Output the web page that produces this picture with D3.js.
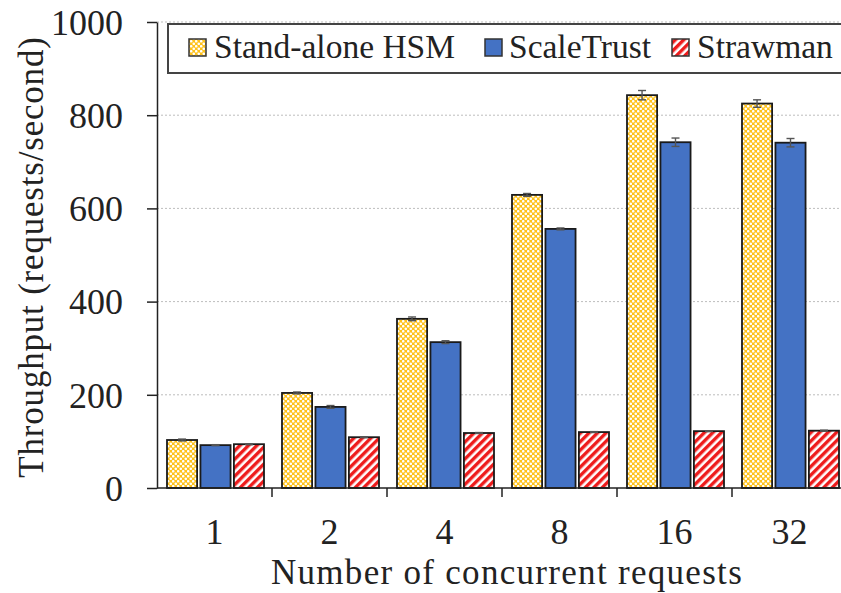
<!DOCTYPE html>
<html><head><meta charset="utf-8">
<script src="https://cdn.jsdelivr.net/npm/d3@7"></script>
<style>body{margin:0;background:#fff;} svg{display:block;} svg text{font-family:"Liberation Serif","Times New Roman",Times,serif !important;}</style>
</head><body>
<script>
const categories = ["1","2","4","8","16","32"];
const seriesNames = ["Stand-alone HSM","ScaleTrust","Strawman"];
const hsm = [103, 204, 363, 629, 843, 825];
const scaleTrust = [92, 174, 313, 556, 742, 741];
const strawman = [94, 109, 118, 120, 122, 123];
const hsmErr = [2, 2, 4, 3, 10, 8];
const scaleTrustErr = [1, 3, 3, 2, 9, 9];
const strawmanErr = [1, 1, 1, 1, 1, 1];
const yTicks = [0, 200, 400, 600, 800, 1000];

(function(){
const W = 841, H = 593;
const svg = d3.select("body").append("svg").attr("width", W).attr("height", H);
const defs = svg.append("defs");

const p1 = defs.append("pattern").attr("id","patHSM").attr("patternUnits","userSpaceOnUse")
  .attr("width",5).attr("height",5);
p1.append("rect").attr("width",5).attr("height",5).attr("fill","#FFC21A");
p1.append("circle").attr("cx",1.25).attr("cy",1.25).attr("r",1.3).attr("fill","#fff");
p1.append("circle").attr("cx",3.75).attr("cy",3.75).attr("r",1.3).attr("fill","#fff");

const p3 = defs.append("pattern").attr("id","patStraw").attr("patternUnits","userSpaceOnUse")
  .attr("width",6).attr("height",6).attr("patternTransform","rotate(45)");
p3.append("rect").attr("width",6).attr("height",6).attr("fill","#fff");
p3.append("rect").attr("width",3.4).attr("height",6).attr("fill","#EE1C1C");

const fills = ["url(#patHSM)", "#4472C4", "url(#patStraw)"];
const data = categories.map((c,i)=>({cat:c, vals:[
  {s:0, v:hsm[i], e:hsmErr[i]},
  {s:1, v:scaleTrust[i], e:scaleTrustErr[i]},
  {s:2, v:strawman[i], e:strawmanErr[i]}]}));

const mLeft = 157, mRight = 847, mTop = 22, mBottom = 488;
const x0 = d3.scaleBand().domain(categories).range([mLeft, mRight]).padding(0);
const x1 = d3.scaleBand().domain([0,1,2]).range([10, x0.bandwidth()-8]).paddingInner(0.1);
const y = d3.scaleLinear().domain([0,1000]).range([mBottom, mTop]);

const font = "Liberation Serif";

svg.append("g").selectAll("line").data(yTicks.filter(d=>d>0)).join("line")
  .attr("x1", mLeft).attr("x2", mRight).attr("y1", d=>y(d)).attr("y2", d=>y(d))
  .attr("stroke","#bdbdbd").attr("stroke-width",1).attr("stroke-dasharray","2,2");

const g = svg.append("g").selectAll("g").data(data).join("g")
  .attr("transform", d=>`translate(${x0(d.cat)},0)`);
g.selectAll("rect").data(d=>d.vals).join("rect")
  .attr("x", d=>x1(d.s)).attr("width", x1.bandwidth())
  .attr("y", d=>y(d.v)).attr("height", d=>mBottom - y(d.v))
  .attr("fill", d=>fills[d.s]).attr("stroke","#1a1a1a").attr("stroke-width",1.8);

const eb = g.selectAll("g.err").data(d=>d.vals).join("g").attr("class","err")
  .attr("stroke","#555").attr("stroke-width",1.4);
const cx = d=>x1(d.s)+x1.bandwidth()/2;
eb.append("line").attr("x1", cx).attr("x2", cx)
  .attr("y1", d=>y(d.v+d.e)).attr("y2", d=>y(d.v-d.e));
eb.append("line").attr("x1", d=>cx(d)-4).attr("x2", d=>cx(d)+4)
  .attr("y1", d=>y(d.v+d.e)).attr("y2", d=>y(d.v+d.e));
eb.append("line").attr("x1", d=>cx(d)-4).attr("x2", d=>cx(d)+4)
  .attr("y1", d=>y(d.v-d.e)).attr("y2", d=>y(d.v-d.e));

const yAxis = svg.append("g").attr("transform",`translate(${mLeft},0)`)
  .call(d3.axisLeft(y).tickValues(yTicks).tickFormat(d3.format("d")).tickSize(10).tickPadding(24).tickSizeOuter(0));
yAxis.attr("font-family", font);
yAxis.select(".domain").attr("stroke","#222").attr("stroke-width",1.5);
yAxis.selectAll(".tick line").attr("stroke","#222").attr("stroke-width",1.5);
yAxis.selectAll(".tick text").attr("font-size",36).attr("fill","#222")
  .attr("dy","0.34em");

svg.append("line").attr("x1",mLeft).attr("x2",mRight).attr("y1",mBottom).attr("y2",mBottom)
  .attr("stroke","#222").attr("stroke-width",1.5);
svg.append("g").selectAll("line").data(categories.slice(0,-1)).join("line")
  .attr("x1", d=>x0(d)+x0.bandwidth()).attr("x2", d=>x0(d)+x0.bandwidth())
  .attr("y1", mBottom).attr("y2", mBottom+9).attr("stroke","#222").attr("stroke-width",1.5);
const xAxis = svg.append("g").attr("transform",`translate(0,${mBottom})`)
  .call(d3.axisBottom(x0).tickSize(0).tickPadding(28));
xAxis.attr("font-family", font);
xAxis.select(".domain").remove();
xAxis.selectAll(".tick text").attr("font-size",36).attr("fill","#222")
  .attr("dy","0.34em").attr("y",44);

svg.append("text").attr("x", 507).attr("y", 584).attr("text-anchor","middle")
  .attr("font-size",35).attr("letter-spacing",1.3).attr("fill","#222")
  .text("Number of concurrent requests");
svg.append("text").attr("transform","translate(43,257) rotate(-90)").attr("text-anchor","middle")
  .attr("font-size",35).attr("letter-spacing",0.8).attr("fill","#222")
  .text("Throughput (requests/second)");

const lg = svg.append("g");
lg.append("rect").attr("x",168).attr("y",24).attr("width",690).attr("height",49)
  .attr("fill","#fff").attr("stroke","#444").attr("stroke-width",2);
const swX = [189, 485, 672], txX = [214, 509, 697];
seriesNames.forEach((s,i)=>{
  lg.append("rect").attr("x",swX[i]).attr("y",39).attr("width",17).attr("height",17)
    .attr("fill",fills[i]).attr("stroke","#333").attr("stroke-width",1.5);
  lg.append("text").attr("x",txX[i]).attr("y",58).attr("font-size",33.5)
    .attr("fill","#222").text(s);
});
})();
</script>
</body></html>
